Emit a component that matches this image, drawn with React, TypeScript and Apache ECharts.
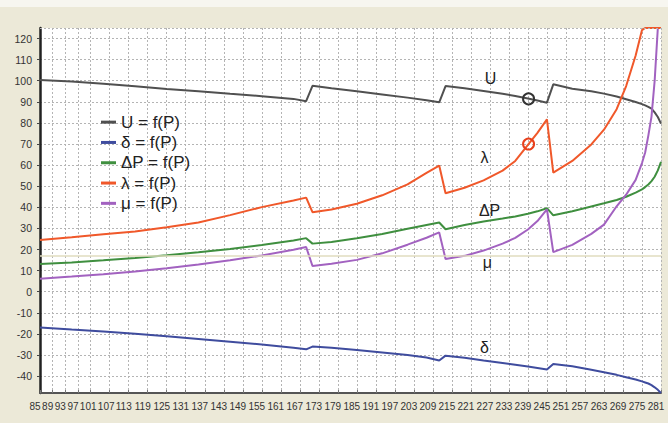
import React, { useEffect, useRef } from "react";
import * as echarts from "echarts";

// Active power P (x axis values of the computed points)
const P = [
  85, 95, 105, 115, 125, 135, 145, 155, 165, 169,
  171, 177, 185, 193, 201, 207, 211,
  213, 219, 225, 231, 235, 239, 242, 245,
  247, 253, 259, 263, 267, 270, 273, 275, 276, 277, 278, 279, 280, 281,
];

const U = [
  100.4, 99.6, 98.6, 97.4, 96.1, 95.0, 93.8, 92.7, 91.4, 90.3,
  97.6, 96.4, 95.0, 93.5, 92.0, 90.8, 89.8,
  97.5, 96.4, 95.1, 93.8, 92.8, 91.6, 90.6, 89.6,
  98.3, 96.2, 95.0, 93.9, 92.5, 91.2, 89.9, 88.9, 88.3, 87.6, 86.8, 85.0, 82.8, 79.7,
];

const DELTA = [
  -16.9, -17.9, -18.8, -19.9, -21.1, -22.4, -23.7, -25.0, -26.6, -27.3,
  -26.0, -26.5, -27.6, -28.8, -30.0, -31.2, -32.6,
  -30.3, -31.3, -32.6, -33.8, -34.6, -35.4, -36.1, -36.9,
  -34.2, -35.3, -37.0, -38.2, -39.4, -40.5, -41.6, -42.5, -43.0, -43.5, -44.3, -45.3, -46.5, -48.0,
];

const DP = [
  13.1, 13.9, 14.9, 16.0, 17.3, 18.7, 20.3, 22.1, 24.3, 25.4,
  22.8, 23.6, 25.4, 27.4, 29.8, 31.6, 32.8,
  29.6, 31.6, 33.3, 34.7, 35.7, 37.0, 38.1, 39.6,
  36.2, 38.1, 40.4, 41.9, 43.5, 45.0, 47.0, 48.5, 49.6, 50.8, 52.4, 54.5, 57.5, 61.5,
];

const LAMBDA = [
  24.5, 25.8, 27.2, 28.6, 30.6, 32.8, 36.3, 40.1, 43.2, 44.6,
  37.7, 39.0, 41.7, 45.7, 50.9, 56.3, 59.8,
  46.7, 49.3, 52.8, 57.4, 62.0, 69.6, 75.3, 81.7,
  56.5, 62.0, 69.8, 76.8, 86.5, 97.5, 112.0, 124.0, 125, 125, 125, 125, 125, 125,
];

const MU = [
  6.2, 7.2, 8.3, 9.6, 11.1, 12.9, 14.9, 17.2, 19.9, 21.2,
  12.2, 13.3, 15.1, 18.2, 22.3, 25.6, 28.1,
  15.5, 17.0, 19.5, 22.8, 25.5, 29.5, 33.5, 39.0,
  18.8, 22.2, 27.4, 31.8, 40.5, 46.0, 53.0, 61.0, 66.0, 74.0, 83.0, 100.0, 125, 125,
];

const X_TICKS = [
  85, 89, 93, 97, 101, 107, 113, 119, 125, 131, 137, 143, 149, 155, 161, 167, 173,
  179, 185, 191, 197, 203, 209, 215, 221, 227, 233, 239, 245, 251, 257, 263, 269, 275, 281,
];
const Y_TICKS = [-40, -30, -20, -10, 0, 10, 20, 30, 40, 50, 60, 70, 80, 90, 100, 110, 120];

const NAMES = ["U = f(P)", "δ = f(P)", "ΔP = f(P)", "λ = f(P)", "μ = f(P)"];
const COLORS = ["#505050", "#3f4c9e", "#3f8f3f", "#f0582a", "#a262c0"];
const SERIES_VALUES = [U, DELTA, DP, LAMBDA, MU];

// annotation labels: [text, P, value]
const LABELS: [string, number, number][] = [
  ["U", 227.2, 101.3],
  ["δ", 225.3, -26.5],
  ["ΔP", 226.9, 38.3],
  ["λ", 225.3, 63.4],
  ["μ", 226.2, 13.7],
];
// marked points (circles): series index, P, value
const CIRCLES: [number, number, number][] = [
  [0, 239.2, 91.4],
  [3, 239.2, 70.0],
];
const REF_LINE = 17;
const Y_MIN = -48;
const Y_MAX = 125;

const AXIS_FONT = "'Liberation Sans', Arial, sans-serif";
const TEXT_FONT = "'Liberation Sans', Arial, sans-serif";

export default function App() {
  const ref = useRef<HTMLDivElement>(null);
  useEffect(() => {
    const chart = echarts.init(ref.current!, null, { renderer: "svg" });
    const gridStyle = { color: "#b4b4b4", type: [2, 2] as any, width: 1 };
    const series: any[] = SERIES_VALUES.map((vals, i) => {
      const markData: any[] = [
        {
          coord: [LABELS[i][1], LABELS[i][2]],
          symbol: "circle",
          symbolSize: 0,
          label: {
            show: true,
            position: "inside",
            formatter: LABELS[i][0],
            fontSize: 16,
            fontFamily: TEXT_FONT,
            color: "#222",
          },
        },
      ];
      CIRCLES.filter((c) => c[0] === i).forEach((c) => {
        markData.push({
          coord: [c[1], c[2]],
          symbol: "circle",
          symbolSize: 11,
          itemStyle: { color: "rgba(0,0,0,0)", borderColor: i === 0 ? "#333" : "#e8401c", borderWidth: 2 },
          label: { show: false },
        });
      });
      const s: any = {
        name: NAMES[i],
        type: "line",
        data: P.map((p, k) => [p, vals[k]]),
        showSymbol: false,
        symbol: "none",
        lineStyle: { color: COLORS[i], width: 2 },
        itemStyle: { color: COLORS[i] },
        z: i === 3 ? 4 : 3,
        markPoint: { silent: true, animation: false, data: markData },
      };
      if (i === 0) {
        s.markLine = {
          silent: true,
          symbol: "none",
          animation: false,
          label: { show: false },
          data: [
            { yAxis: REF_LINE, lineStyle: { color: "#e0dcbf", width: 1.5, type: "solid" } },
            { yAxis: Y_MAX, lineStyle: gridStyle },
          ],
        };
      }
      return s;
    });

    const labelStyle = { fontSize: 10, color: "#333", fontFamily: AXIS_FONT };

    chart.setOption({
      animation: false,
      backgroundColor: "#ECE9D8",
      graphic: [
        { type: "rect", left: 0, top: 0, shape: { width: 668, height: 7 }, style: { fill: "#f7f6f0" } },
      ],
      grid: {
        left: 40,
        right: 7,
        top: 28,
        bottom: 30,
        show: true,
        backgroundColor: "#ffffff",
        borderWidth: 0,
      },
      legend: {
        data: NAMES,
        orient: "vertical",
        left: 96,
        top: 107,
        itemWidth: 15,
        itemHeight: 3,
        itemGap: 0,
        icon: "rect",
        textStyle: { fontSize: 17, lineHeight: 20.3, color: "#222", fontFamily: TEXT_FONT },
      },
      xAxis: {
        type: "value",
        min: 85,
        max: 281,
        axisLine: { onZero: false, lineStyle: { color: "#555", width: 2 } },
        axisTick: { show: true, customValues: X_TICKS, length: 3, inside: true, lineStyle: { color: "#777" } },
        axisLabel: {
          customValues: X_TICKS,
          margin: 8,
          showMinLabel: true,
          showMaxLabel: true,
          formatter: (v: number) => {
            if (v === 101) return "{b|" + v + "}";
            if (v === 107) return "{c|" + v + "}";
            return "{a|" + v + "}";
          },
          rich: {
            a: { ...labelStyle, padding: [0, 10, 0, 0] },
            b: { ...labelStyle, padding: [0, 5, 0, 0] },
            c: { ...labelStyle, padding: [0, 7, 0, 0] },
          },
        },
        splitLine: { show: true, lineStyle: gridStyle },
      },
      yAxis: {
        type: "value",
        min: Y_MIN,
        max: Y_MAX,
        axisLine: { show: true, onZero: false, lineStyle: { color: "#222", width: 2.5 } },
        axisTick: { show: true, customValues: Y_TICKS, length: 3, lineStyle: { color: "#444" } },
        axisLabel: {
          customValues: Y_TICKS,
          fontSize: 10.5,
          color: "#333",
          fontFamily: AXIS_FONT,
          margin: 8,
        },
        splitLine: { show: true, lineStyle: gridStyle },
      },
      series,
    });
    return () => chart.dispose();
  }, []);
  return (
    <div
      ref={ref}
      style={{ position: "fixed", left: 0, top: 0, width: 668, height: 423, background: "#ECE9D8" }}
    />
  );
}
